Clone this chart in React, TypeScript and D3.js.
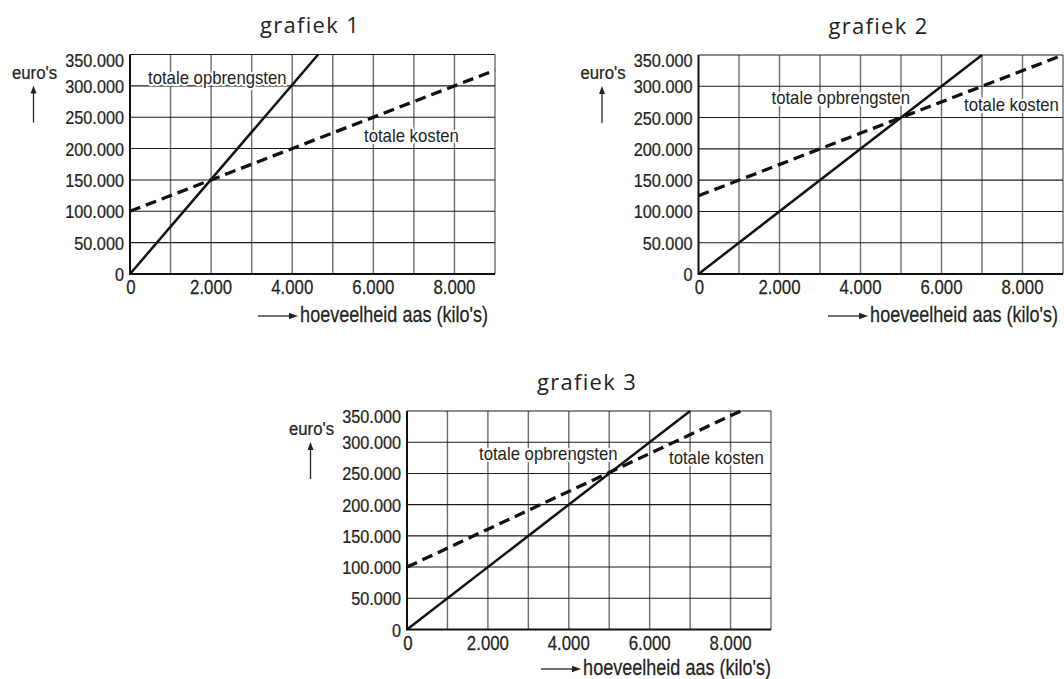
import React from "react";
import * as d3 from "d3";

// values (x: kilo's, y: euro's)
const xGrid = [0, 1000, 2000, 3000, 4000, 5000, 6000, 7000, 8000, 9000];
const xLabels = [0, 2000, 4000, 6000, 8000];
const yTicks = [0, 50000, 100000, 150000, 200000, 250000, 300000, 350000];

const opbrengsten1: [number, number][] = [[0, 0], [4640, 350000]];
const kosten1: [number, number][] = [[0, 100000], [9000, 325000]];
const opbrengsten2: [number, number][] = [[0, 0], [7000, 350000]];
const kosten2: [number, number][] = [[0, 125000], [9000, 350000]];
const opbrengsten3: [number, number][] = [[0, 0], [7000, 350000]];
const kosten3: [number, number][] = [[0, 100000], [8250, 350000]];

const titles = ["grafiek 1", "grafiek 2", "grafiek 3"];
const yLabel = "euro's";
const xLabel = "hoeveelheid aas (kilo's)";
const opbrengstenLabel = "totale opbrengsten";
const kostenLabel = "totale kosten";

const nl = d3.formatLocale({
  decimal: ",",
  thousands: ".",
  grouping: [3],
  currency: ["€", ""],
});
const fmt = nl.format(",");

const SANS = "'Liberation Sans', Arial, sans-serif";
const TITLE = "'Open Sans', 'Noto Sans', sans-serif";

// no narrow font installed, so squeeze Liberation Sans horizontally
const CondText: React.FC<{
  x: number;
  y: number;
  size: number;
  squeeze?: number;
  anchor?: "start" | "middle" | "end";
  halo?: boolean;
  children: React.ReactNode;
}> = ({ x, y, size, squeeze = 0.82, anchor = "start", halo, children }) => (
  <text
    transform={`translate(${x},${y}) scale(${squeeze},1)`}
    textAnchor={anchor}
    fontFamily={SANS}
    fontSize={size}
    fill="#231f20"
    stroke={halo ? "#fff" : "#231f20"}
    strokeWidth={halo ? 4 : 0.25}
    paintOrder="stroke"
    strokeLinejoin="round"
  >
    {children}
  </text>
);

type PanelProps = {
  title: string;
  opbrengsten: [number, number][];
  kosten: [number, number][];
  x0: number;
  x1: number;
  top: number;
  bottom: number;
  opbPos: [number, number];
  kosPos: [number, number];
  xLabelEnd: number;
  xLabelDy: number;
};

const Panel: React.FC<PanelProps> = (p) => {
  const x = d3.scaleLinear().domain([0, 9000]).range([p.x0, p.x1]);
  const y = d3.scaleLinear().domain([0, 350000]).range([p.bottom, p.top]);
  const line = d3
    .line<[number, number]>()
    .x((d) => x(d[0]))
    .y((d) => y(d[1]));

  const labelEnd = p.x1 + p.xLabelEnd;
  const labelY = p.bottom + p.xLabelDy;

  return (
    <g>
      <text
        x={p.x0 + 180}
        y={p.top - 21.5}
        textAnchor="middle"
        fontFamily={TITLE}
        fontSize={22}
        letterSpacing={1.3}
        fill="#231f20"
      >
        {p.title}
      </text>

      {/* vertical grid */}
      {xGrid.slice(1).map((v) => (
        <line
          key={"vx" + v}
          x1={x(v)}
          x2={x(v)}
          y1={y(350000)}
          y2={y(0)}
          stroke="#6d6d6d"
          strokeWidth={1.4}
        />
      ))}
      {/* horizontal grid */}
      {yTicks.slice(1).map((v) => (
        <line
          key={"hy" + v}
          x1={x(0)}
          x2={x(9000)}
          y1={y(v)}
          y2={y(v)}
          stroke="#1a1a1a"
          strokeWidth={1.1}
        />
      ))}
      {/* axes */}
      <line x1={x(0)} x2={x(0)} y1={y(350000)} y2={y(0)} stroke="#111" strokeWidth={2} />
      <line x1={x(0) - 1} x2={x(9000)} y1={y(0)} y2={y(0)} stroke="#111" strokeWidth={2} />

      {yTicks.map((v) => (
        <CondText
          key={"yl" + v}
          x={p.x0 - 6}
          y={y(v) + (v === 350000 ? 12 : 7)}
          size={17.5}
          squeeze={0.93}
          anchor="end"
        >
          {fmt(v)}
        </CondText>
      ))}
      {xLabels.map((v) => (
        <CondText
          key={"xl" + v}
          x={x(v) + (v === 0 ? 1 : 0)}
          y={p.bottom + 20}
          size={20.5}
          anchor="middle"
        >
          {fmt(v)}
        </CondText>
      ))}

      {/* series */}
      <path d={line(p.kosten) || ""} fill="none" stroke="#111" strokeWidth={3.3} strokeDasharray="11,6" />
      <path d={line(p.opbrengsten) || ""} fill="none" stroke="#111" strokeWidth={2.5} />

      <CondText x={p.x0 + p.opbPos[0]} y={p.top + p.opbPos[1]} size={18} squeeze={0.93} halo>
        {opbrengstenLabel}
      </CondText>
      <CondText x={p.x0 + p.kosPos[0]} y={p.top + p.kosPos[1]} size={18} squeeze={0.93} halo>
        {kostenLabel}
      </CondText>

      {/* y axis title with arrow */}
      <CondText x={p.x0 - 95.5} y={p.top + 24} size={19} squeeze={0.88} anchor="middle">
        {yLabel}
      </CondText>
      <line
        x1={p.x0 - 96.5}
        x2={p.x0 - 96.5}
        y1={p.top + 68}
        y2={p.top + 36}
        stroke="#222"
        strokeWidth={1.3}
      />
      <path d={`M${p.x0 - 96.5},${p.top + 31} l-3,8 l6,0 z`} fill="#222" />

      {/* x axis title with arrow */}
      <CondText x={labelEnd} y={labelY} size={22} anchor="end">
        {xLabel}
      </CondText>
      <line
        x1={labelEnd - 230}
        x2={labelEnd - 198}
        y1={labelY - 6}
        y2={labelY - 6}
        stroke="#222"
        strokeWidth={1.3}
      />
      <path d={`M${labelEnd - 190},${labelY - 6} l-9,-3.2 l0,6.4 z`} fill="#222" />
    </g>
  );
};

const App: React.FC = () => {
  return (
    <svg
      width={1064}
      height={679}
      style={{ position: "absolute", left: 0, top: 0, background: "#fff" }}
    >
      <Panel
        title={titles[0]}
        opbrengsten={opbrengsten1}
        kosten={kosten1}
        x0={130}
        x1={495}
        top={54.5}
        bottom={274}
        opbPos={[18, 29.5]}
        kosPos={[234, 87]}
        xLabelEnd={-7}
        xLabelDy={48}
      />
      <Panel
        title={titles[1]}
        opbrengsten={opbrengsten2}
        kosten={kosten2}
        x0={698.5}
        x1={1063}
        top={55}
        bottom={274}
        opbPos={[73, 49]}
        kosPos={[265.5, 56]}
        xLabelEnd={-5}
        xLabelDy={48}
      />
      <Panel
        title={titles[2]}
        opbrengsten={opbrengsten3}
        kosten={kosten3}
        x0={407}
        x1={771}
        top={411}
        bottom={629.5}
        opbPos={[72, 49]}
        kosPos={[262, 52.5]}
        xLabelEnd={0}
        xLabelDy={45.5}
      />
    </svg>
  );
};

export default App;
